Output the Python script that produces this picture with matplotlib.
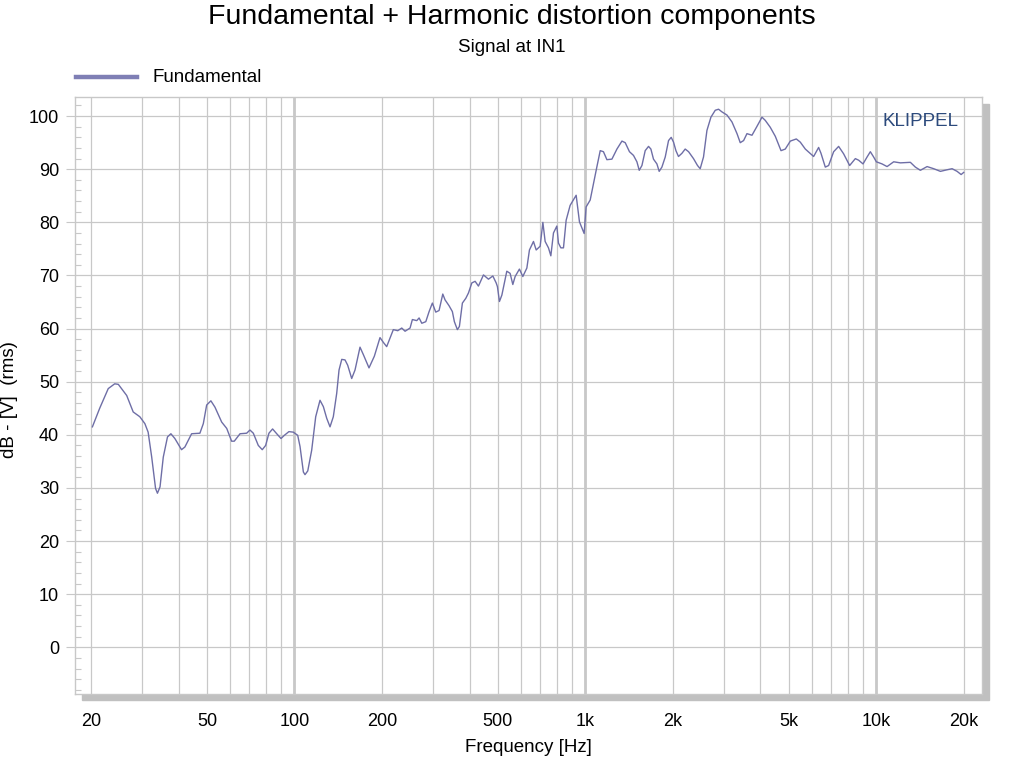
import numpy as np
import matplotlib.pyplot as plt
from matplotlib.patches import Rectangle
from matplotlib.ticker import FixedLocator, NullFormatter

plt.rcParams['font.family'] = ['Liberation Sans', 'DejaVu Sans']

# Fundamental response (Hz, dB)
freq = [20.2, 21.4, 22.9, 24.1, 24.8, 26.5, 27.9, 29.4, 30.6, 31.4,
        32.3, 33.3, 33.8, 34.5, 35.4, 36.6, 37.6, 38.8, 40.9, 42.0,
        44.3, 47.3, 48.6, 49.9, 51.6, 53.3, 56.2, 58.5, 60.8, 62.1,
        65.0, 68.5, 70.3, 72.2, 75.1, 77.5, 79.6, 81.7, 84.1, 86.9,
        89.9, 92.3, 95.7, 99.1, 102.6, 104.5, 105.3, 107.3, 108.7, 111.1,
        114.6, 118.3, 122.4, 125.7, 129.1, 132.5, 136.0, 139.7, 142.3, 145.4,
        149.2, 152.4, 157.3, 161.5, 168.0, 172.5, 180.4, 188.2, 196.8, 202.1,
        207.5, 218.7, 226.5, 233.8, 240.0, 249.7, 254.3, 263.3, 268.2, 274.0,
        282.8, 290.3, 297.9, 306.0, 314.1, 323.5, 329.4, 340.0, 349.0, 354.6,
        363.1, 369.0, 377.8, 388.2, 396.4, 407.2, 417.9, 429.0, 446.4, 464.4,
        480.8, 493.6, 498.6, 506.6, 516.4, 537.0, 551.2, 563.2, 573.6, 593.4,
        609.6, 629.4, 642.4, 663.2, 677.6, 699.2, 714.4, 727.4, 746.8, 761.0,
        777.0, 798.0, 808.2, 823.6, 841.0, 859.0, 886.6, 929.8, 954.4, 990.6,
        1006, 1039, 1053, 1096, 1125, 1154, 1186, 1234, 1284, 1336,
        1371, 1418, 1464, 1504, 1532, 1565, 1606, 1649, 1680, 1715,
        1762, 1794, 1833, 1882, 1932, 1973, 2010, 2048, 2090, 2148,
        2204, 2264, 2354, 2430, 2482, 2548, 2618, 2702, 2796, 2870,
        2948, 3068, 3192, 3322, 3408, 3500, 3594, 3740, 3884, 4048,
        4154, 4322, 4498, 4706, 4868, 5066, 5312, 5482, 5704, 6092,
        6338, 6458, 6682, 6860, 7138, 7426, 7726, 8102, 8476, 8700,
        9008, 9300, 9544, 9798, 10010, 10472, 10896, 11482, 12106, 13102,
        13632, 14182, 14956, 15760, 16620, 17526, 18234, 18968, 19580, 19986]
level = [41.5, 45.0, 48.7, 49.6, 49.5, 47.4, 44.3, 43.4, 42.1, 40.5,
         35.8, 29.9, 29.0, 30.2, 35.8, 39.6, 40.2, 39.3, 37.2, 37.7,
         40.2, 40.3, 42.1, 45.6, 46.4, 45.2, 42.4, 41.2, 38.8, 38.8,
         40.2, 40.3, 40.9, 40.3, 38.0, 37.2, 38.0, 40.3, 41.1, 40.2,
         39.3, 39.9, 40.6, 40.5, 39.9, 37.8, 36.4, 33.0, 32.5, 33.2,
         37.1, 43.4, 46.5, 45.3, 43.1, 41.5, 43.4, 47.8, 52.2, 54.2,
         54.1, 53.1, 50.6, 52.2, 56.5, 55.1, 52.6, 54.8, 58.3, 57.4,
         56.6, 59.8, 59.6, 60.1, 59.5, 60.1, 61.7, 61.5, 62.0, 61.0,
         61.3, 63.2, 64.8, 63.1, 63.4, 66.5, 65.4, 64.3, 63.2, 61.3,
         59.8, 60.4, 64.8, 65.7, 66.7, 68.6, 68.9, 68.0, 70.1, 69.3,
         69.9, 68.6, 67.9, 65.1, 66.3, 70.8, 70.4, 68.3, 69.8, 71.2,
         69.8, 71.4, 74.8, 76.4, 74.8, 75.5, 80.0, 76.4, 75.2, 73.7,
         78.0, 79.3, 76.1, 75.2, 75.2, 80.4, 83.2, 85.1, 80.1, 77.9,
         82.9, 84.2, 85.8, 90.5, 93.5, 93.3, 91.8, 91.9, 93.8, 95.3,
         95.0, 93.3, 92.6, 91.4, 89.8, 90.7, 93.5, 94.3, 93.8, 91.9,
         91.0, 89.6, 90.4, 92.3, 95.4, 96.0, 95.1, 93.5, 92.4, 93.0,
         93.8, 93.3, 92.0, 90.7, 90.1, 92.3, 97.3, 99.8, 101.1, 101.3,
         100.8, 100.2, 98.9, 96.7, 95.0, 95.4, 96.7, 96.4, 98.0, 99.8,
         99.2, 97.9, 96.2, 93.5, 93.8, 95.3, 95.7, 95.1, 93.8, 92.4,
         94.1, 93.0, 90.4, 90.7, 93.3, 94.3, 92.9, 90.7, 92.0, 91.7,
         91.0, 92.3, 93.3, 92.3, 91.4, 91.0, 90.5, 91.4, 91.2, 91.3,
         90.4, 89.8, 90.5, 90.1, 89.6, 89.9, 90.1, 89.6, 89.0, 89.4]

xticks = [20, 50, 100, 200, 500, 1000, 2000, 5000, 10000, 20000]
xticklabels = ['20', '50', '100', '200', '500', '1k', '2k', '5k', '10k', '20k']
yticks = list(range(0, 101, 10))

grid_col = '#c8c8c8'
line_col = '#6e6ea6'

W, H = 1024, 768
fig = plt.figure(figsize=(W / 100, H / 100), dpi=100)

# drop shadow behind the plot frame
fig.patches.append(Rectangle((82 / W, (H - 700) / H), (989 - 82) / W, (700 - 104) / H,
                             transform=fig.transFigure, color='#c0c0c0', zorder=-5))

ax = fig.add_axes([75 / W, (H - 694) / H, (982 - 75) / W, (694 - 97) / H])
ax.set_zorder(2)
ax.set_facecolor('white')
ax.set_xscale('log')
ax.set_xlim(17.6, 23100)
ax.set_ylim(-8.8, 103.6)

# vertical grid: every 1..9 multiple, decades thicker
for dec in [10, 100, 1000, 10000]:
    for m in range(1, 10):
        f = dec * m
        if f < 20 or f > 20000:
            continue
        lw = 2.0 if (m == 1 and f in (100, 1000, 10000)) else 0.9
        ax.axvline(f, color=grid_col, lw=lw, zorder=1)
for v in yticks:
    ax.axhline(v, color=grid_col, lw=0.9, zorder=1)

ax.plot(freq, level, color=line_col, lw=1.0, zorder=3)

for s in ax.spines.values():
    s.set_color(grid_col)
    s.set_linewidth(1.0)

ax.xaxis.set_major_locator(FixedLocator(xticks))
ax.set_xticklabels(xticklabels)
ax.xaxis.set_minor_formatter(NullFormatter())
ax.xaxis.set_minor_locator(FixedLocator([]))
ax.tick_params(axis='x', which='both', length=0, pad=14, labelsize=13)

ax.set_yticks(yticks)
ax.yaxis.set_minor_locator(FixedLocator([v for v in range(-8, 104, 2) if v % 10 != 0]))
ax.tick_params(axis='y', which='major', direction='out', length=6.5, width=0.8,
               color=grid_col, pad=5, labelsize=13)
ax.tick_params(axis='y', which='minor', direction='in', length=4, width=0.8,
               color=grid_col)

fig.text(512 / W, 1 - 17 / H, 'Fundamental + Harmonic distortion components',
         ha='center', va='center', fontsize=20.5)
fig.text(512 / W, 1 - 47 / H, 'Signal at IN1', ha='center', va='center', fontsize=13.5)

fig.add_artist(plt.Line2D([76 / W, 137 / W], [1 - 77 / H, 1 - 77 / H],
                          transform=fig.transFigure, color='#7f7fb5', lw=3.2))
fig.text(152 / W, 1 - 77 / H, 'Fundamental', ha='left', va='center', fontsize=13.5)

fig.text(921 / W, 1 - 122 / H, 'KLIPPEL', ha='center', va='center', fontsize=13.5,
         color='#2c4a7c', zorder=10)

fig.text(528 / W, 1 - 748 / H, 'Frequency [Hz]', ha='center', va='center', fontsize=13.5)
fig.text(10 / W, 1 - 400 / H, 'dB - [V]  (rms)', ha='center', va='center',
         rotation=90, fontsize=13.5)

fig.savefig('out.png', dpi=100)
